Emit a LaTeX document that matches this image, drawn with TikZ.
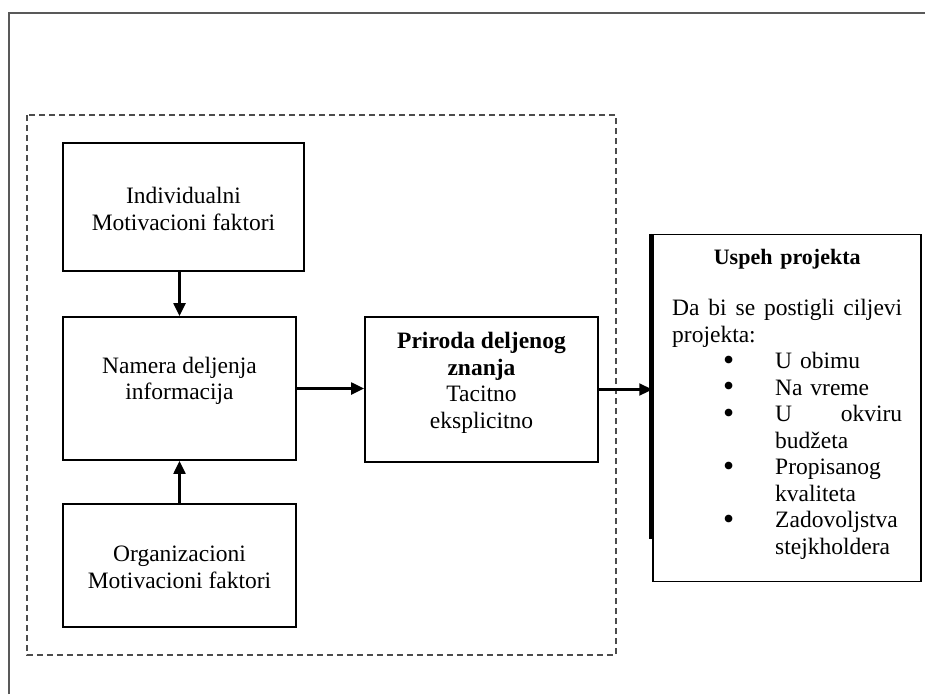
\documentclass[tikz,border=0pt]{standalone}
\usepackage{fontspec}
\usepackage{graphicx}
\setmainfont{Liberation Serif}
\usetikzlibrary{arrows.meta}

% one bulleted goal line, and a continuation line of the same goal
\newcommand\goalbullet{\smash{\raisebox{-1.5pt}{\scalebox{1.35}{•}}}}
\newcommand\goalitem[1]{\hspace*{51pt}\makebox[52pt][l]{\goalbullet}#1}
\newcommand\goalcont[1]{\hspace*{103pt}#1}

\begin{document}
\begin{tikzpicture}[x=1pt,y=-1pt,
  box/.style={draw=black, line width=1.8pt, rectangle, inner sep=0pt,
              align=center, font=\fontsize{23.5pt}{26.5pt}\selectfont},
  lbl/.style={align=center, inner sep=0pt, font=\fontsize{23.5pt}{26.5pt}\selectfont},
  arr/.style={line width=2.2pt, -{Triangle[length=13pt,width=12pt]}},
  group/.style={draw=black!70, line width=2pt, dash pattern=on 6pt off 4pt},
  frame/.style={draw=black!65, line width=2.4pt}]
\useasboundingbox (0,0) rectangle (925,694);

% page frame
\draw[frame] (9,694) -- (9,13) -- (925,13);

% group of motivation factors
\draw[group] (27,115) rectangle (616,655);

% boxes
\node[box, minimum width=241pt, minimum height=128pt] (ind) at (183.5,207) {};
\node[lbl, yshift=-2pt] (indtxt) at (ind) {Individualni\\Motivacioni faktori};
\node[box, minimum width=233pt, minimum height=143pt] (nam) at (179.5,388.5) {};
\node[lbl, yshift=7.5pt] (namtxt) at (nam) {Namera deljenja\\informacija};
\node[box, minimum width=233pt, minimum height=123pt] (org) at (179.5,565.5) {};
\node[lbl, yshift=-2pt] (orgtxt) at (org) {Organizacioni\\Motivacioni faktori};
\node[box, minimum width=233pt, minimum height=145pt] (pri) at (481.5,389.5) {};
\node[lbl, anchor=north] (pritxt) at (481.5,332)
  {\textbf{Priroda deljenog}\\\textbf{znanja}\\Tacitno\\eksplicitno};

% project success
\node[draw=black, line width=1.5pt, rectangle, inner sep=0pt,
      minimum width=268pt, minimum height=347pt] (usp) at (787,408) {};
\draw[line width=3pt] ([xshift=-1.5pt]usp.north west) -- ++(0,305);
\node[inner sep=0pt, anchor=north west, text width=230pt,
      font=\fontsize{23.5pt}{26.5pt}\selectfont] (goals) at (672,249.5)
  {\noindent\makebox[\linewidth]{\fontsize{22pt}{26.5pt}\selectfont\textbf{Uspeh projekta}}\\[24.5pt]
   \makebox[\linewidth][l]{Da\hfill bi\hfill se\hfill postigli\hfill ciljevi}\\
   projekta:\\
   \goalitem{U obimu}\\
   \goalitem{Na vreme}\\
   \goalitem{\makebox[127pt][l]{U\hfill okviru}}\\
   \goalcont{budžeta}\\
   \goalitem{Propisanog}\\
   \goalcont{kvaliteta}\\
   \goalitem{Zadovoljstva}\\
   \goalcont{stejkholdera}};

% connectors
\draw[arr] (ind.south -| nam.north) -- (nam.north);
\draw[arr] (org.north) -- (nam.south);
\draw[arr] (nam.east) -- (nam.east -| pri.west);
\draw[arr] (pri.east) -- (pri.east -| usp.west);
\end{tikzpicture}
\end{document}
